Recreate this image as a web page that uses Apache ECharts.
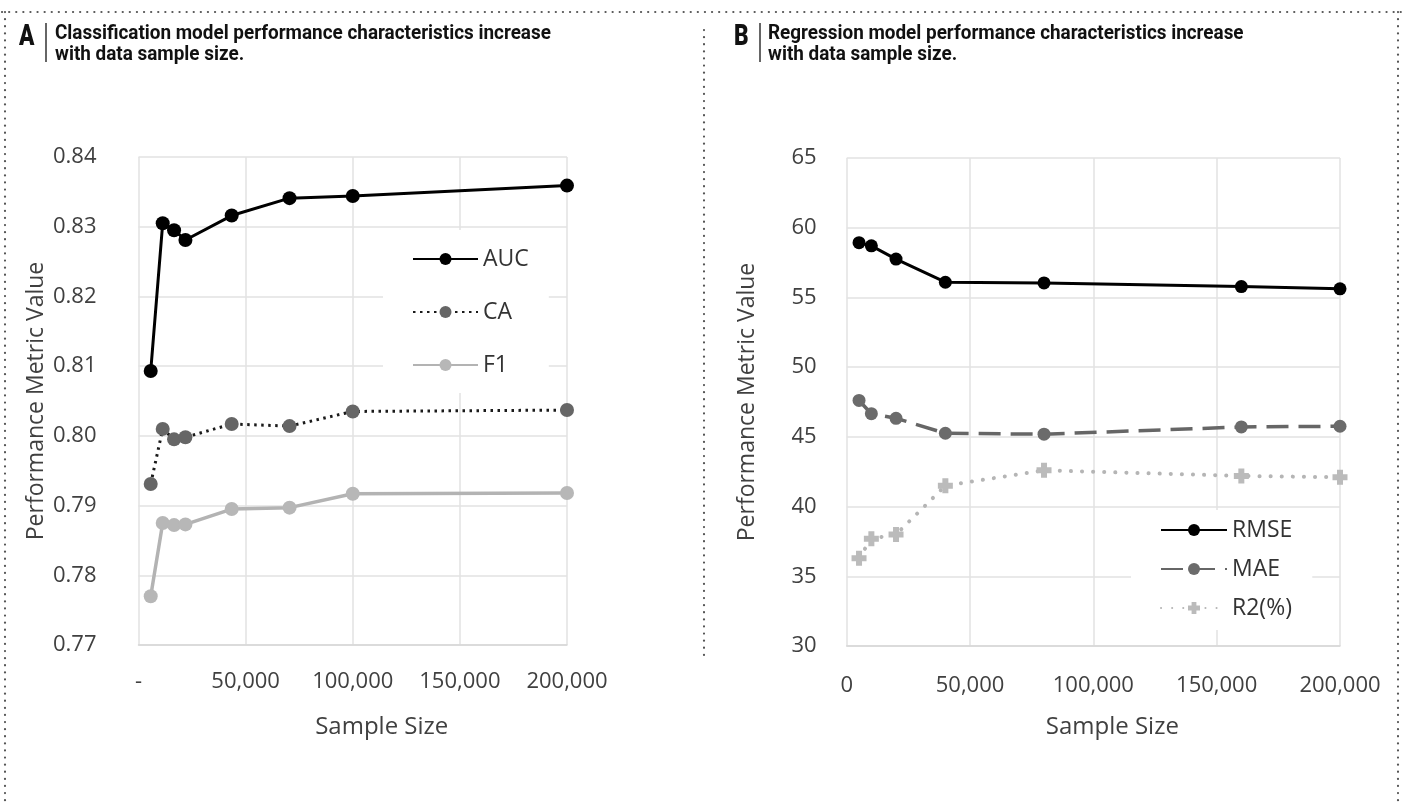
<!DOCTYPE html>
<html>
<head>
<meta charset="utf-8">
<script src="https://cdn.jsdelivr.net/npm/echarts@6/dist/echarts.min.js"></script>
<style>
  html, body { margin: 0; padding: 0; background: #fff; }
  #chart { width: 1405px; height: 803px; }
</style>
</head>
<body>
<div id="chart"></div>
<script>
// panel A - classification
const sizesA = [5700, 11300, 16600, 21900, 43500, 70500, 100000, 200000]
const auc = [0.8093, 0.8305, 0.8295, 0.8281, 0.8316, 0.8341, 0.8344, 0.8359]
const ca = [0.7931, 0.8010, 0.7995, 0.7998, 0.8017, 0.8014, 0.8035, 0.8037]
const f1 = [0.7770, 0.7875, 0.7872, 0.7873, 0.7895, 0.7897, 0.7917, 0.7918]

// panel B - regression
const sizesB = [5000, 10000, 20000, 40000, 80000, 160000, 200000]
const rmse = [58.93, 58.70, 57.75, 56.09, 56.04, 55.78, 55.62]
const mae = [47.61, 46.66, 46.33, 45.26, 45.19, 45.71, 45.76]
const r2 = [36.3, 37.7, 38.0, 41.5, 42.6, 42.2, 42.1]

const titleA = 'Classification model performance characteristics increase\nwith data sample size.'
const titleB = 'Regression model performance characteristics increase\nwith data sample size.'

const pairs = (xs, ys) => xs.map((x, i) => [x, ys[i]])

const FONT = '"Open Sans", "Noto Sans", sans-serif'
const HEAD = 'Roboto, "Noto Sans", sans-serif'
const labelColor = '#404040'
const gridLine = { show: true, lineStyle: { color: '#e2e2e2', width: 1.5 } }
const plus = 'path://M3,0 L7,0 L7,3 L10,3 L10,7 L7,7 L7,10 L3,10 L3,7 L0,7 L0,3 L3,3 Z'

const fmtX = (v) => v.toLocaleString('en-US')

const xAxisBase = {
  type: 'value', min: 0, max: 200000, interval: 50000,
  axisLine: { show: true, lineStyle: { color: '#d6d6d6', width: 1.5 } },
  axisTick: { show: false },
  splitLine: gridLine,
  nameLocation: 'middle',
  nameTextStyle: { fontFamily: FONT, fontSize: 24, color: labelColor, lineHeight: 26 },
}

const yAxisBase = {
  type: 'value',
  axisLine: { show: false },
  axisTick: { show: false },
  splitLine: gridLine,
  nameLocation: 'middle',
  nameTextStyle: { fontFamily: FONT, fontSize: 23, color: labelColor, lineHeight: 26 },
}

const dots = (x1, y1, x2, y2) => ({
  type: 'line', silent: true,
  shape: { x1, y1, x2, y2 },
  style: { stroke: '#555', lineWidth: 2.2, lineDash: [0.1, 7], lineCap: 'round' }
})

// condensed header text: regular font squeezed horizontally
const head = (x, y, text, size, weight, sx, lh) => ({
  type: 'text', x, y, scaleX: sx, silent: true,
  style: { text, fill: '#111', fontFamily: HEAD, fontWeight: weight, fontSize: size, lineHeight: lh }
})

const option = {
  backgroundColor: '#fff',
  animation: false,
  grid: [
    { left: 138.5, top: 157, width: 428.5, height: 488 },
    { left: 846.7, top: 158, width: 493.3, height: 488 }
  ],
  xAxis: [
    {
      ...xAxisBase, gridIndex: 0,
      name: 'Sample Size', nameGap: 69,
      nameTextStyle: { ...xAxisBase.nameTextStyle, padding: [0, 0, 0, 58] },
      axisLabel: { fontFamily: FONT, fontSize: 22, color: labelColor, margin: 26,
        formatter: (v) => v === 0 ? '-' : fmtX(v) }
    },
    {
      ...xAxisBase, gridIndex: 1,
      name: 'Sample Size', nameGap: 68,
      nameTextStyle: { ...xAxisBase.nameTextStyle, padding: [0, 0, 0, 38] },
      axisLabel: { fontFamily: FONT, fontSize: 22, color: labelColor, margin: 29, formatter: fmtX }
    }
  ],
  yAxis: [
    {
      ...yAxisBase, gridIndex: 0, min: 0.77, max: 0.84, interval: 0.01,
      name: 'Performance Metric Value', nameGap: 83,
      axisLabel: { fontFamily: FONT, fontSize: 22, color: labelColor, margin: 42,
        formatter: (v) => v.toFixed(2) }
    },
    {
      ...yAxisBase, gridIndex: 1, min: 30, max: 65, interval: 5,
      name: 'Performance Metric Value', nameGap: 86,
      axisLabel: { fontFamily: FONT, fontSize: 22, color: labelColor, margin: 30 }
    }
  ],
  legend: [
    {
      data: ['AUC', 'CA', 'F1'],
      orient: 'vertical', left: 383, top: 230,
      padding: [17, 20, 16, 29],
      itemWidth: 65, itemHeight: 15, itemGap: 29,
      backgroundColor: '#fff',
      textStyle: { fontFamily: FONT, fontSize: 23, color: '#333', lineHeight: 24 }
    },
    {
      data: ['RMSE', 'MAE', 'R2(%)'],
      orient: 'vertical', left: 1131, top: 510,
      padding: [8, 20, 10, 29],
      itemWidth: 66, itemHeight: 15, itemGap: 15,
      backgroundColor: '#fff',
      textStyle: { fontFamily: FONT, fontSize: 23, color: '#333', lineHeight: 24 }
    }
  ],
  series: [
    {
      name: 'AUC', type: 'line', xAxisIndex: 0, yAxisIndex: 0,
      data: pairs(sizesA, auc),
      symbol: 'circle', symbolSize: 14,
      itemStyle: { color: '#000' },
      lineStyle: { color: '#000', width: 3 }
    },
    {
      name: 'CA', type: 'line', xAxisIndex: 0, yAxisIndex: 0,
      data: pairs(sizesA, ca),
      symbol: 'circle', symbolSize: 14,
      itemStyle: { color: '#666' },
      lineStyle: { color: '#1a1a1a', width: 3, type: [2.5, 4.5] }
    },
    {
      name: 'F1', type: 'line', xAxisIndex: 0, yAxisIndex: 0,
      data: pairs(sizesA, f1),
      symbol: 'circle', symbolSize: 14,
      itemStyle: { color: '#b7b7b7' },
      lineStyle: { color: '#b3b3b3', width: 3.5 }
    },
    {
      name: 'RMSE', type: 'line', xAxisIndex: 1, yAxisIndex: 1,
      data: pairs(sizesB, rmse),
      symbol: 'circle', symbolSize: 13,
      itemStyle: { color: '#000' },
      lineStyle: { color: '#000', width: 3 }
    },
    {
      name: 'MAE', type: 'line', xAxisIndex: 1, yAxisIndex: 1,
      data: pairs(sizesB, mae),
      symbol: 'circle', symbolSize: 13,
      itemStyle: { color: '#6b6b6b' },
      lineStyle: { color: '#666', width: 3.5, type: [22, 10] }
    },
    {
      name: 'R2(%)', type: 'line', xAxisIndex: 1, yAxisIndex: 1,
      data: pairs(sizesB, r2),
      symbol: plus, symbolSize: 15,
      itemStyle: { color: '#bbbbbb' },
      lineStyle: { color: '#b5b5b5', width: 4, type: [0.1, 11], cap: 'round' }
    }
  ],
  graphic: [
    // dotted frame
    dots(2, 12, 1403, 12),
    dots(5, 12, 5, 803),
    dots(1398, 12, 1398, 803),
    dots(704, 30, 704, 657),
    // panel A header
    head(19, 23, 'A', 29, 900, 0.78),
    { type: 'line', shape: { x1: 46, y1: 23, x2: 46, y2: 62 }, style: { stroke: '#333', lineWidth: 1.5 } },
    head(55, 23, titleA, 21, 'bold', 0.9, 21),
    // panel B header
    head(734, 23, 'B', 29, 900, 0.78),
    { type: 'line', shape: { x1: 760, y1: 23, x2: 760, y2: 62 }, style: { stroke: '#333', lineWidth: 1.5 } },
    head(768, 23, titleB, 21, 'bold', 0.9, 21)
  ]
}

const myChart = echarts.init(document.getElementById('chart'))
myChart.setOption(option)
</script>
</body>
</html>
